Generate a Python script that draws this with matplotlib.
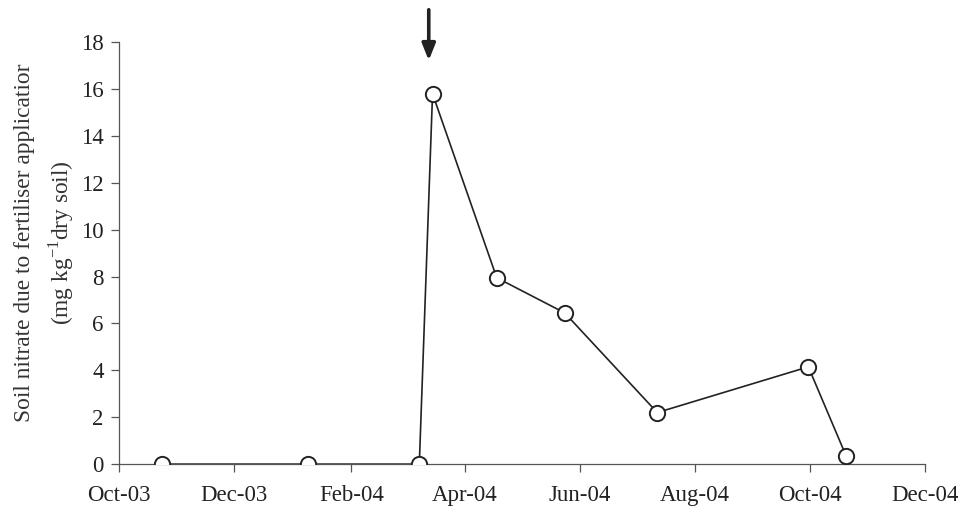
import matplotlib
matplotlib.use("Agg")
import matplotlib.pyplot as plt
import matplotlib.dates as mdates
import numpy as np
from datetime import datetime

# sampling dates and nitrate values
sample_dates = ["2003-10-24", "2004-01-09", "2004-03-08", "2004-03-15",
                "2004-04-18", "2004-05-24", "2004-07-12", "2004-09-30",
                "2004-10-20"]
nitrate = [0.0, 0.0, 0.0, 15.8, 7.95, 6.45, 2.2, 4.15, 0.35]
fertiliser_date = "2004-03-13"

x_ticks = ["2003-10-01", "2003-12-01", "2004-02-01", "2004-04-01",
           "2004-06-01", "2004-08-01", "2004-10-01", "2004-12-01"]
y_ticks = list(range(0, 20, 2))

plt.rcParams["font.family"] = ["Liberation Serif", "DejaVu Serif"]

dates = [datetime.strptime(d, "%Y-%m-%d") for d in sample_dates]
ticks = [datetime.strptime(d, "%Y-%m-%d") for d in x_ticks]
fert = datetime.strptime(fertiliser_date, "%Y-%m-%d")

fig = plt.figure(figsize=(9.6, 5.14), dpi=100)
ax = fig.add_axes([0.124, 0.097, 0.84, 0.821])

ax.plot(dates, nitrate, color="#222222", lw=1.2, marker="o", ms=11,
        mfc="white", mec="#222222", mew=1.4, zorder=3)

ax.set_xlim(ticks[0], ticks[-1])
ax.set_ylim(0, 18)
ax.set_xticks(ticks)
ax.xaxis.set_major_formatter(mdates.DateFormatter("%b-%y"))
ax.set_yticks(y_ticks)

for s in ["top", "right"]:
    ax.spines[s].set_visible(False)
for s in ["left", "bottom"]:
    ax.spines[s].set_color("#555555")
    ax.spines[s].set_linewidth(0.9)
ax.tick_params(direction="out", length=6, width=0.9, color="#555555",
               labelsize=16.5, labelcolor="#222222")
ax.tick_params(axis="x", pad=9)
ax.tick_params(axis="y", pad=5)

ax.set_ylabel("Soil nitrate due to fertiliser applicatior\n(mg kg$^{\\mathregular{-1}}$dry soil)",
              fontsize=16.8, color="#333333", linespacing=1.5,
              va="center", ha="center")
ax.yaxis.set_label_coords(-0.092, 0.524)

# arrow marking fertiliser application
ax.annotate("", xy=(fert, 17.1), xytext=(fert, 19.5),
            arrowprops=dict(arrowstyle="-|>,head_width=0.4,head_length=1.0",
                            color="#222222", lw=2.6),
            annotation_clip=False)

fig.savefig("out.png", dpi=100)
